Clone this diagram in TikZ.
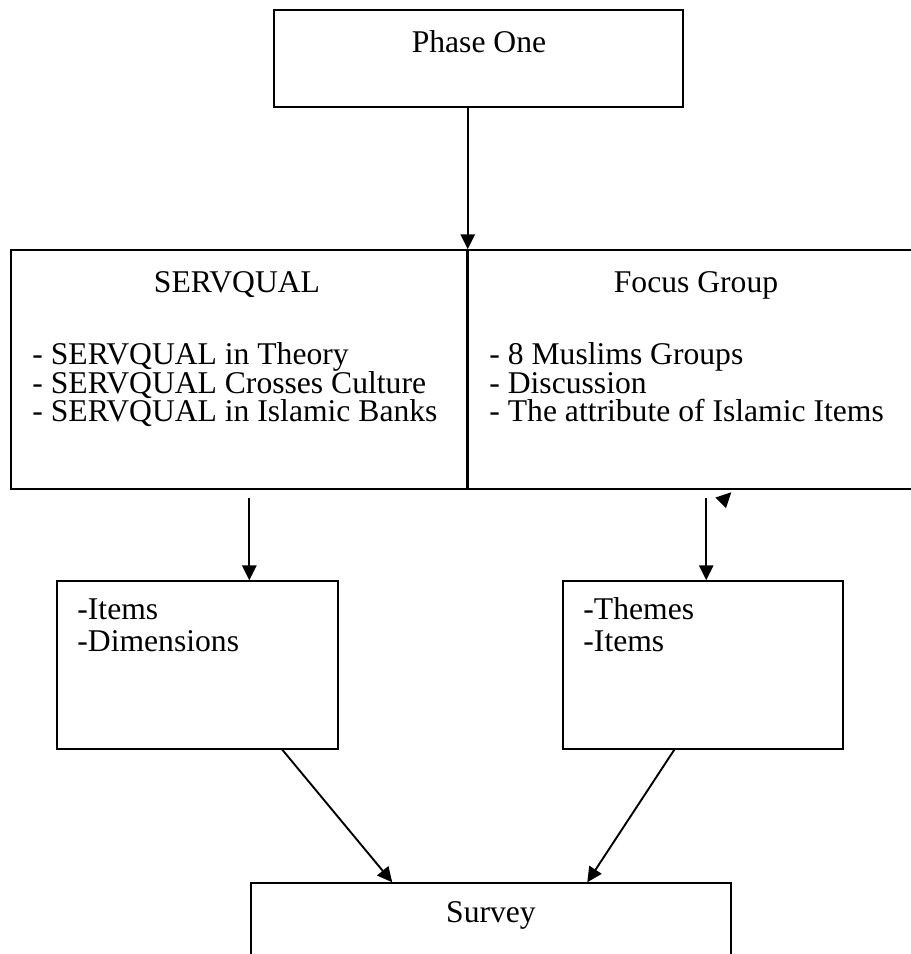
\documentclass[tikz,border=0pt]{standalone}
\usepackage{fontspec}
\setmainfont{Liberation Serif}
\usetikzlibrary{arrows.meta}

\begin{document}
\begin{tikzpicture}[
  >={Triangle[length=0.25cm, width=0.24cm]},
  box/.style={rectangle, draw=black, line width=0.7pt, inner sep=0pt},
  lbl/.style={inner sep=0pt, font=\fontsize{15}{14}\selectfont},
  link/.style={->, line width=0.9pt},
]
\useasboundingbox (0,0) rectangle (15.183,-15.9);

% Phase one
\node[box, minimum width=6.817cm, minimum height=1.617cm] (phase) at (7.975,-0.975) {};
\node[lbl, anchor=base] (phaseT) at (7.983,-0.867) {Phase One};

% SERVQUAL and focus group
\node[box, minimum width=7.6cm, minimum height=3.983cm] (servq) at (3.983,-6.158) {};
\node[box, minimum width=7.417cm, minimum height=3.983cm] (focus) at (11.492,-6.158) {};
\draw[line width=1.4pt] (servq.north east) -- (servq.south east);

\node[lbl, anchor=base] (servqT) at (3.95,-4.867) {SERVQUAL};
\node[lbl, anchor=base west] (servq1) at (0.533,-6.067) {- SERVQUAL in Theory};
\node[lbl, anchor=base west] (servq2) at (0.533,-6.55) {- SERVQUAL Crosses Culture};
\node[lbl, anchor=base west] (servq3) at (0.533,-7.033) {- SERVQUAL in Islamic Banks};

\node[lbl, anchor=base] (focusT) at (11.6,-4.867) {Focus Group};
\node[lbl, anchor=base west] (focus1) at (8.15,-6.067) {- 8 Muslims Groups};
\node[lbl, anchor=base west] (focus2) at (8.15,-6.55) {- Discussion};
\node[lbl, anchor=base west] (focus3) at (8.15,-7.033) {- The attribute of Islamic Items};

% Items and themes
\node[box, minimum width=4.683cm, minimum height=2.8cm] (items) at (3.292,-11.083) {};
\node[lbl, anchor=base west] (items1) at (1.283,-10.333) {-Items};
\node[lbl, anchor=base west] (items2) at (1.283,-10.85) {-Dimensions};

\node[box, minimum width=4.667cm, minimum height=2.8cm] (themes) at (11.717,-11.083) {};
\node[lbl, anchor=base west] (themes1) at (9.717,-10.333) {-Themes};
\node[lbl, anchor=base west] (themes2) at (9.717,-10.85) {-Items};

% Survey
\node[box, minimum width=8cm, minimum height=1.8cm] (survey) at (8.183,-15.617) {};
\node[lbl, anchor=base] (surveyT) at (8.183,-15.383) {Survey};

% Arrows
\draw[link] (phase.south -| servq.east) -- (servq.north east);
\draw[link] ([xshift=3.217cm,yshift=1.367cm]items.north west) -- ([xshift=3.217cm]items.north west);
\draw[link] ([xshift=2.4cm,yshift=1.367cm]themes.north west) -- ([xshift=2.4cm]themes.north west);
\coordinate (strayA) at ([xshift=2.463cm,yshift=1.113cm]themes.north west);
\coordinate (strayB) at ([xshift=2.817cm,yshift=1.467cm]themes.north west);
\draw[link, shorten <=0.26cm] (strayA) -- (strayB);
\draw[link] ([xshift=3.767cm]items.south west) -- ([xshift=2.367cm]survey.north west);
\draw[link] ([xshift=1.867cm]themes.south west) -- ([xshift=5.617cm]survey.north west);
\end{tikzpicture}
\end{document}
